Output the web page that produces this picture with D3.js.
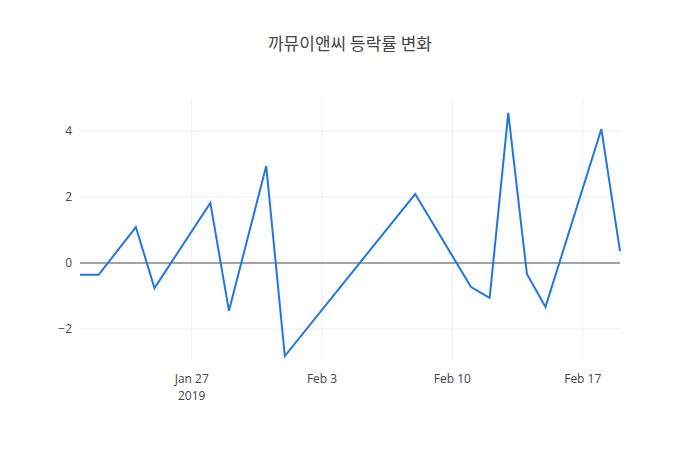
<!DOCTYPE html>
<html><head><meta charset="utf-8">
<script src="https://cdn.jsdelivr.net/npm/d3@7"></script>
<style>body{margin:0;background:#fff}</style></head>
<body><svg id="c" width="700" height="450"></svg>
<script>
const dates = ["2019-01-21","2019-01-22","2019-01-24","2019-01-25","2019-01-28","2019-01-29","2019-01-31","2019-02-01","2019-02-08","2019-02-11","2019-02-12","2019-02-13","2019-02-14","2019-02-15","2019-02-18","2019-02-19"];
const values = [-0.36,-0.36,1.09,-0.76,1.82,-1.45,2.94,-2.82,2.09,-0.73,-1.06,4.55,-0.33,-1.33,4.06,0.36];
const yTicks = [-2,0,2,4];
const xTicks = ["2019-01-27","2019-02-03","2019-02-10","2019-02-17"];
const title = "까뮤이앤씨 등락률 변화";

const svg = d3.select("#c");
const L=80,R=620,T=100,B=360;
const p = d3.utcParse("%Y-%m-%d");
const x = d3.scaleUtc().domain([p(dates[0]), p(dates[dates.length-1])]).range([L,R]);
const y = d3.scaleLinear().domain([-2.94,4.94]).range([B,T]);
const font = "'Open Sans', sans-serif";

svg.append("text").attr("x",350).attr("y",50).attr("text-anchor","middle")
  .attr("font-family","'Noto Sans CJK KR', sans-serif").attr("font-size",17).attr("fill","#444").text(title);

const g = svg.append("g");
xTicks.forEach(t=>{
  const xx=x(p(t));
  g.append("line").attr("x1",xx).attr("x2",xx).attr("y1",T).attr("y2",B).attr("stroke","#eee");
});
yTicks.forEach(t=>{
  g.append("line").attr("x1",L).attr("x2",R).attr("y1",y(t)).attr("y2",y(t)).attr("stroke",t===0?"#444":"#eee").attr("stroke-width",1);
  g.append("text").attr("x",L-8).attr("y",y(t)+4).attr("text-anchor","end").attr("font-family",font).attr("font-size",12).attr("fill","#444").text(t<0?"\u2212"+Math.abs(t):t);
});
const fmt = d3.utcFormat("%b %-d");
xTicks.forEach((t,i)=>{
  const xx=x(p(t));
  g.append("text").attr("x",xx).attr("y",B+23).attr("text-anchor","middle").attr("font-family",font).attr("font-size",12).attr("fill","#444").text(fmt(p(t)));
  if(i===0) g.append("text").attr("x",xx).attr("y",B+40).attr("text-anchor","middle").attr("font-family",font).attr("font-size",12).attr("fill","#444").text("2019");
});
const line = d3.line().x((d,i)=>x(p(dates[i]))).y(d=>y(d));
svg.append("path").datum(values).attr("d",line).attr("fill","none").attr("stroke","#1f77e4").attr("stroke-width",2);
</script></body></html>
